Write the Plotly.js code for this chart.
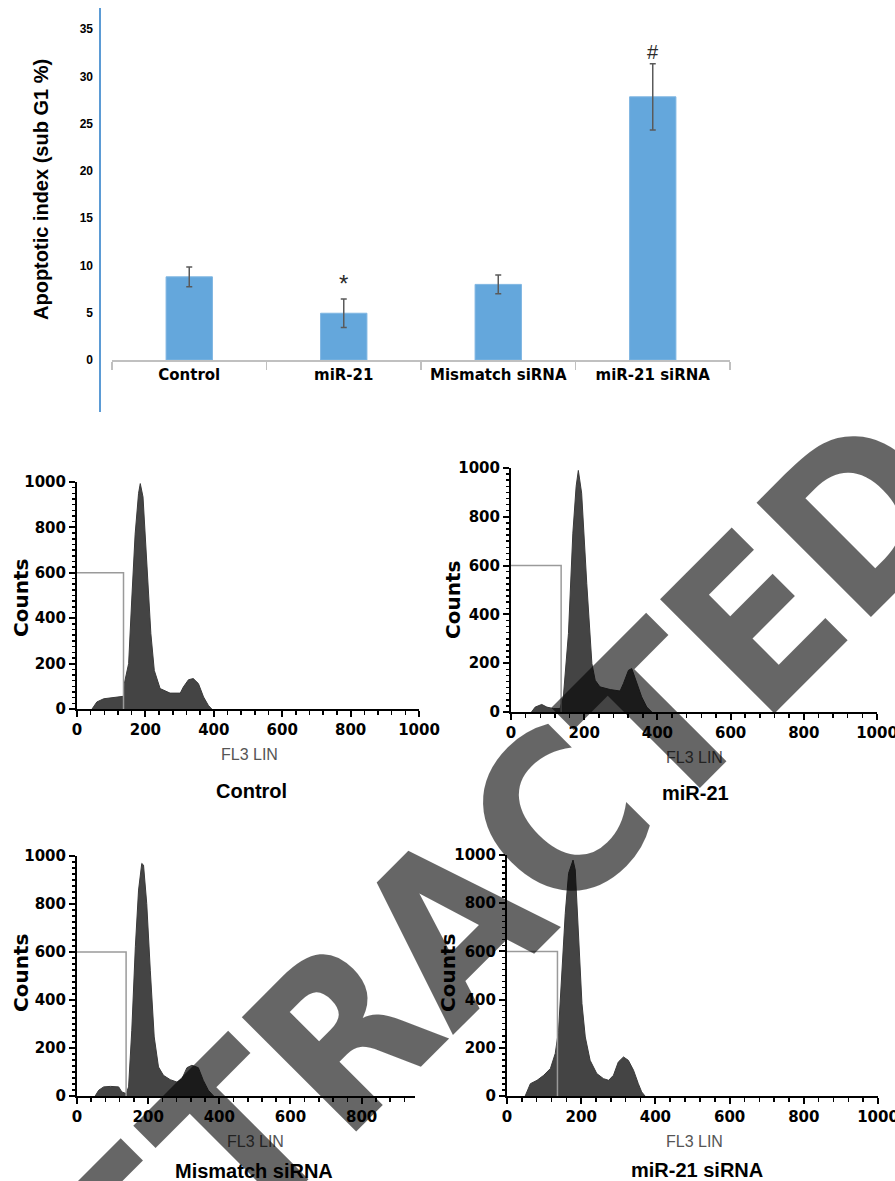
<!DOCTYPE html>
<html>
<head>
<meta charset="utf-8">
<script src="https://cdn.plot.ly/plotly-3.0.1.min.js"></script>
<style>
  html, body { margin: 0; padding: 0; background: #fff; }
  #chart { width: 895px; height: 1181px; }
</style>
</head>
<body>
<div id="chart"></div>
<script>
// ---------- DATA ----------
const barCategories = ['Control', 'miR-21', 'Mismatch siRNA', 'miR-21 siRNA'];
const barValues = [8.8, 4.95, 8.0, 27.85];
const barErrors = [1.05, 1.5, 1.0, 3.5];
const barMarks = ['', '*', '', '#'];
const barMarkY = [0, 8.1, 0, 32.6];
const barYTicks = [0, 5, 10, 15, 20, 25, 30, 35];

const ctrlX = [44, 58, 78, 107, 136, 138, 151, 160, 170, 180, 185, 193, 204, 216, 226, 243, 272, 302, 311, 326, 340, 355, 370, 384, 394];
const ctrlY = [0, 31, 45, 50, 56, 110, 200, 480, 770, 950, 993, 934, 655, 332, 170, 90, 70, 70, 97, 129, 134, 112, 53, 16, 0];

const mir21X = [56, 66, 84, 98, 116, 134, 143, 157, 169, 178, 184, 193, 207, 221, 230, 243, 271, 298, 307, 321, 330, 344, 357, 371, 385];
const mir21Y = [0, 20, 31, 20, 14, 14, 62, 322, 733, 925, 990, 897, 527, 199, 130, 103, 92, 86, 116, 171, 178, 116, 62, 20, 0];

const mismX = [51, 61, 75, 94, 117, 126, 138, 145, 154, 164, 173, 182, 187, 196, 206, 217, 229, 243, 262, 281, 295, 309, 323, 341, 355, 369, 384];
const mismY = [0, 24, 38, 40, 38, 17, 10, 38, 274, 622, 858, 969, 962, 802, 524, 246, 121, 86, 68, 58, 72, 118, 128, 118, 65, 24, 0];

const sirnaX = [49, 63, 81, 99, 117, 130, 139, 148, 157, 166, 178, 184, 193, 202, 211, 224, 242, 260, 274, 287, 300, 314, 327, 341, 354, 363, 372];
const sirnaY = [0, 51, 65, 86, 114, 176, 273, 494, 758, 924, 979, 938, 688, 384, 245, 148, 93, 72, 65, 86, 141, 162, 148, 107, 51, 17, 0];

const panelNames = ['Control', 'miR-21', 'Mismatch siRNA', 'miR-21 siRNA'];
const gateX = [136, 137, 138, 136];
const gateLevel = 600;
const histXMax = [1000, 1000, 950, 1000];
const histXTicks = [[0, 200, 400, 600, 800, 1000], [0, 200, 400, 600, 800, 1000], [0, 200, 400, 600, 800], [0, 200, 400, 600, 800, 1000]];
const histYTicks = [0, 200, 400, 600, 800, 1000];

// ---------- LAYOUT HELPERS ----------
const W = 895, H = 1181;
const PX = p => p / W;
const PY = p => 1 - p / H;
const ARIAL = 'Liberation Sans, Arial, sans-serif';
const DEJA = 'DejaVu Sans, sans-serif';

const histData = [[ctrlX, ctrlY], [mir21X, mir21Y], [mismX, mismY], [sirnaX, sirnaY]];
// pixel boxes [left, right, top, bottom]
const boxes = [[77, 419, 482, 709], [511, 877, 468, 712], [77, 415, 856, 1096], [507, 878, 855, 1096]];
const countsPos = [[21, 598], [453, 600], [21, 973], [448, 973]];
const fl3Pos = [[249, 754], [694, 757], [256, 1141], [694, 1141]];
const namePos = [[252, 791], [695, 793], [254, 1171], [697, 1170]];

const traces = [];
const layout = {
  width: W, height: H,
  margin: {l: 0, r: 0, t: 0, b: 0},
  paper_bgcolor: '#fff', plot_bgcolor: 'rgba(0,0,0,0)',
  showlegend: false,
  font: {family: ARIAL, color: '#000'},
  annotations: [], shapes: []
};

function paperText(x, y, text, font, angle, opacity) {
  layout.annotations.push({xref: 'paper', yref: 'paper', x: PX(x), y: PY(y), text: text,
    textangle: angle || 0, showarrow: false, xanchor: 'center', yanchor: 'middle', font: font,
    opacity: opacity === undefined ? 1 : opacity});
}

// Bar chart
traces.push({
  type: 'bar', x: barCategories, y: barValues, width: 0.3,
  marker: {color: '#64a7dc', line: {color: '#7fb6e2', width: 1}},
  error_y: {type: 'data', array: barErrors, visible: true, color: '#5a5a5a', thickness: 1.5, width: 3},
  xaxis: 'x', yaxis: 'y', hoverinfo: 'skip'
});
layout.xaxis = {
  domain: [PX(112), PX(730)], anchor: 'y', type: 'category',
  showline: true, linecolor: '#c0c0c0', linewidth: 1.5, tickangle: 0,
  ticks: 'outside', tickson: 'boundaries', ticklen: 8, tickcolor: '#c0c0c0', tickwidth: 1.5,
  tickfont: {size: 15, weight: 'bold', family: DEJA},
  showgrid: false, zeroline: false, fixedrange: true
};
layout.yaxis = {
  domain: [PY(360), PY(360 - 37 * 9.45)], anchor: 'free', position: PX(93), range: [0, 37],
  tickvals: barYTicks, ticks: '', showline: false, showgrid: false, zeroline: false,
  tickfont: {size: 12, weight: 'bold', family: ARIAL}
};
layout.shapes.push({type: 'line', xref: 'paper', yref: 'paper', x0: PX(100), x1: PX(100), y0: PY(8), y1: PY(412), line: {color: '#5b9bd5', width: 2}});
paperText(41, 190, 'Apoptotic index (sub G1 %)', {size: 20, weight: 'bold', family: ARIAL}, -90);
barMarks.forEach((m, i) => {
  if (!m) return;
  layout.annotations.push({xref: 'x', yref: 'y', x: barCategories[i], y: barMarkY[i], text: m, showarrow: false,
    xanchor: 'center', yanchor: 'middle',
    font: {size: m === '*' ? 24 : 20, color: '#2b2b2b', family: ARIAL}});
});

// Histograms
histData.forEach((d, i) => {
  const n = i + 2;
  const xa = 'x' + n, ya = 'y' + n;
  const b = boxes[i];
  traces.push({type: 'scatter', mode: 'lines', x: d[0], y: d[1], fill: 'tozeroy', fillcolor: '#444444',
    line: {color: '#3a3a3a', width: 1}, xaxis: xa, yaxis: ya, hoverinfo: 'skip'});
  traces.push({type: 'scatter', mode: 'lines', x: [0, gateX[i], gateX[i]], y: [gateLevel, gateLevel, 0],
    line: {color: '#9a9a9a', width: 1.5}, xaxis: xa, yaxis: ya, hoverinfo: 'skip'});
  layout['xaxis' + n] = {
    domain: [PX(b[0]), PX(b[1])], anchor: ya, range: [0, histXMax[i]],
    tickvals: histXTicks[i], ticks: 'outside', ticklen: 6, tickwidth: 2, tickcolor: '#000',
    ticklabeloverflow: 'allow',
    minor: {dtick: 40, tick0: 0, ticks: 'outside', ticklen: 4, tickwidth: 1.5, tickcolor: '#000'},
    showline: true, linecolor: '#000', linewidth: 2, showgrid: false, zeroline: false,
    tickfont: {size: 15, weight: 'bold', family: DEJA}
  };
  layout['yaxis' + n] = {
    domain: [PY(b[3]), PY(b[2])], anchor: xa, range: [0, 1000],
    tickvals: histYTicks, ticks: 'outside', ticklen: 6, tickwidth: 2, tickcolor: '#000',
    ticklabeloverflow: 'allow',
    minor: {dtick: 25, tick0: 0, ticks: 'outside', ticklen: 3, tickwidth: 1.5, tickcolor: '#000'},
    showline: true, linecolor: '#000', linewidth: 2, showgrid: false, zeroline: false,
    tickfont: {size: 15, weight: 'bold', family: DEJA}
  };
  paperText(countsPos[i][0], countsPos[i][1], 'Counts', {size: 20, weight: 'bold', family: DEJA}, -90);
  paperText(fl3Pos[i][0], fl3Pos[i][1], 'FL3 LIN', {size: 16, color: '#555', family: ARIAL});
  paperText(namePos[i][0], namePos[i][1], panelNames[i], {size: 20, weight: 'bold', family: ARIAL});
});

// Watermark
paperText(454, 925, 'RETRACTED',
  {size: 222, weight: 'bold', color: 'rgba(0,0,0,0.6)', family: 'DejaVu Sans Condensed, DejaVu Sans, sans-serif'}, -45);

Plotly.newPlot('chart', traces, layout, {staticPlot: true, displayModeBar: false});
</script>
</body>
</html>
